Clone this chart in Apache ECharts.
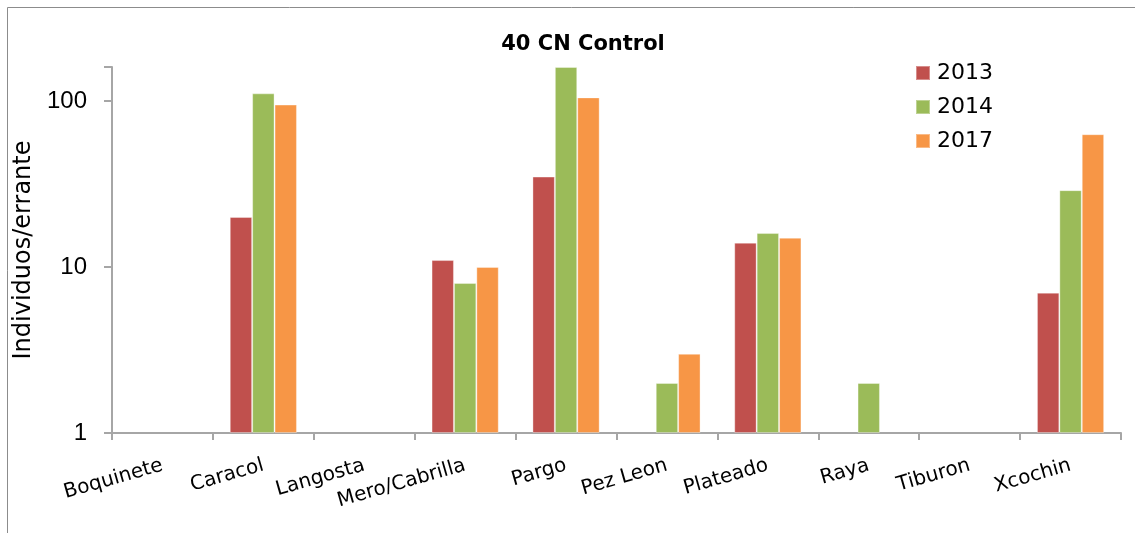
<!DOCTYPE html>
<html>
<head>
<meta charset="utf-8">
<script src="https://cdn.jsdelivr.net/npm/echarts@6/dist/echarts.min.js"></script>
<style>
  html, body { margin: 0; padding: 0; background: #fff; }
  #chart { width: 1135px; height: 533px; }
</style>
</head>
<body>
<div id="chart"></div>
<script>
// Species sampled and individuals per errante, by survey year
const categories = ['Boquinete', 'Caracol', 'Langosta', 'Mero/Cabrilla', 'Pargo', 'Pez Leon', 'Plateado', 'Raya', 'Tiburon', 'Xcochin'];
const years = ['2013', '2014', '2017'];
const values2013 = [null, 20, null, 11, 35, null, 14, null, null, 7];
const values2014 = [null, 111, null, 8, 160, 2, 16, 2, null, 29];
const values2017 = [null, 95, null, 10, 105, 3, 15, null, null, 63];
const colors = ['#C0504D', '#9BBB59', '#F79646'];

const seriesValues = [values2013, values2014, values2017];

const chart = echarts.init(document.getElementById('chart'));
chart.setOption({
  animation: false,
  backgroundColor: '#fff',
  title: {
    text: '40 CN Control',
    left: 578, top: 29, textAlign: 'center',
    textStyle: { fontFamily: 'DejaVu Sans', fontWeight: 'bold', fontSize: 21, color: '#000' }
  },
  legend: {
    orient: 'vertical',
    left: 910, top: 57,
    itemWidth: 14, itemHeight: 14, itemGap: 12,
    icon: 'rect',
    textStyle: { fontFamily: 'DejaVu Sans', fontSize: 22, color: '#000', padding: [0, 0, 0, 2] },
    data: years
  },
  graphic: [{
    type: 'rect',
    shape: { x: 7.5, y: 7.5, width: 1140, height: 540 },
    style: { fill: 'none', stroke: '#8c8c8c', lineWidth: 1 },
    silent: true
  }],
  grid: { left: 112, right: 14, top: 67, bottom: 100, containLabel: false },
  xAxis: {
    type: 'category',
    data: categories,
    axisLine: { lineStyle: { color: '#a6a6a6', width: 2 } },
    axisTick: { show: true, alignWithLabel: false, length: 7, lineStyle: { color: '#a6a6a6', width: 2 } },
    axisLabel: {
      rotate: 16, interval: 0, margin: 32,
      fontFamily: 'DejaVu Sans', fontSize: 20, color: '#000'
    }
  },
  yAxis: {
    type: 'log',
    logBase: 10,
    min: 1, max: 160,
    name: 'Individuos/errante',
    nameLocation: 'middle',
    nameGap: 66,
    nameTextStyle: { fontFamily: 'DejaVu Sans', fontSize: 24, color: '#000' },
    axisLine: { show: true, lineStyle: { color: '#a6a6a6', width: 2 } },
    axisTick: { show: true, length: 8, lineStyle: { color: '#a6a6a6', width: 2 } },
    axisLabel: {
      margin: 25, fontFamily: 'Liberation Sans', fontSize: 24, color: '#000',
      formatter: function (v) { return (v === 1 || v === 10 || v === 100) ? String(v) : ''; }
    },
    splitLine: { show: false }
  },
  series: years.map(function (y, i) {
    return {
      name: y,
      type: 'bar',
      data: seriesValues[i],
      barGap: '0%',
      barCategoryGap: '33.4%',
      itemStyle: { color: colors[i], borderColor: 'rgba(255,255,255,0.35)', borderWidth: 1 }
    };
  })
});
</script>
</body>
</html>
